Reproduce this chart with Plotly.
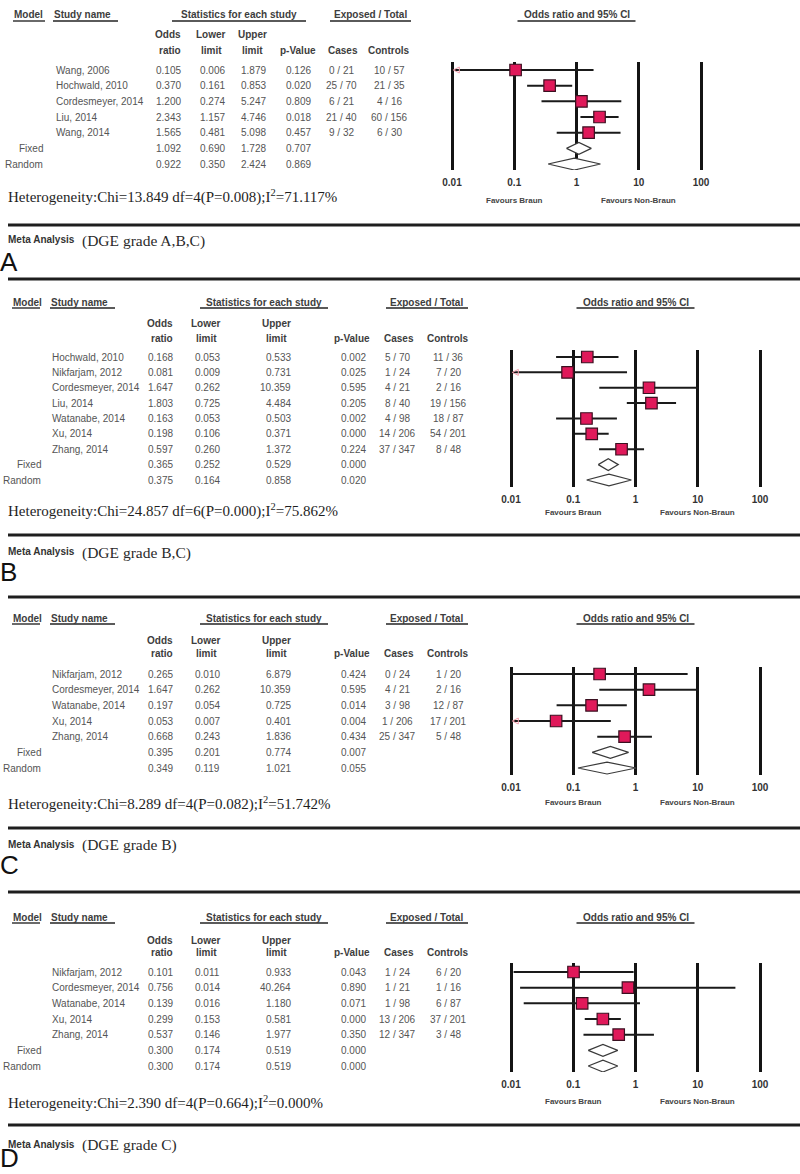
import math
import plotly.graph_objects as go

W, H = 800, 1174

# ------------------------- DATA -------------------------
a_studies = ["Wang, 2006", "Hochwald, 2010", "Cordesmeyer, 2014", "Liu, 2014", "Wang, 2014"]
a_or = [0.105, 0.370, 1.200, 2.343, 1.565]
a_lower = [0.006, 0.161, 0.274, 1.157, 0.481]
a_upper = [1.879, 0.853, 5.247, 4.746, 5.098]
a_p = [0.126, 0.020, 0.809, 0.018, 0.457]
a_cases = ["0 / 21", "25 / 70", "6 / 21", "21 / 40", "9 / 32"]
a_controls = ["10 / 57", "21 / 35", "4 / 16", "60 / 156", "6 / 30"]
a_fixed = [1.092, 0.690, 1.728, 0.707]
a_random = [0.922, 0.350, 2.424, 0.869]
a_het = "Heterogeneity:Chi=13.849 df=4(P=0.008);I<sup>2</sup>=71.117%"
a_title = "(DGE grade A,B,C)"

b_studies = ["Hochwald, 2010", "Nikfarjam, 2012", "Cordesmeyer, 2014", "Liu, 2014",
             "Watanabe, 2014", "Xu, 2014", "Zhang, 2014"]
b_or = [0.168, 0.081, 1.647, 1.803, 0.163, 0.198, 0.597]
b_lower = [0.053, 0.009, 0.262, 0.725, 0.053, 0.106, 0.260]
b_upper = [0.533, 0.731, 10.359, 4.484, 0.503, 0.371, 1.372]
b_p = [0.002, 0.025, 0.595, 0.205, 0.002, 0.000, 0.224]
b_cases = ["5 / 70", "1 / 24", "4 / 21", "8 / 40", "4 / 98", "14 / 206", "37 / 347"]
b_controls = ["11 / 36", "7 / 20", "2 / 16", "19 / 156", "18 / 87", "54 / 201", "8 / 48"]
b_fixed = [0.365, 0.252, 0.529, 0.000]
b_random = [0.375, 0.164, 0.858, 0.020]
b_het = "Heterogeneity:Chi=24.857 df=6(P=0.000);I<sup>2</sup>=75.862%"
b_title = "(DGE grade B,C)"

c_studies = ["Nikfarjam, 2012", "Cordesmeyer, 2014", "Watanabe, 2014", "Xu, 2014", "Zhang, 2014"]
c_or = [0.265, 1.647, 0.197, 0.053, 0.668]
c_lower = [0.010, 0.262, 0.054, 0.007, 0.243]
c_upper = [6.879, 10.359, 0.725, 0.401, 1.836]
c_p = [0.424, 0.595, 0.014, 0.004, 0.434]
c_cases = ["0 / 24", "4 / 21", "3 / 98", "1 / 206", "25 / 347"]
c_controls = ["1 / 20", "2 / 16", "12 / 87", "17 / 201", "5 / 48"]
c_fixed = [0.395, 0.201, 0.774, 0.007]
c_random = [0.349, 0.119, 1.021, 0.055]
c_het = "Heterogeneity:Chi=8.289 df=4(P=0.082);I<sup>2</sup>=51.742%"
c_title = "(DGE grade B)"

d_studies = ["Nikfarjam, 2012", "Cordesmeyer, 2014", "Watanabe, 2014", "Xu, 2014", "Zhang, 2014"]
d_or = [0.101, 0.756, 0.139, 0.299, 0.537]
d_lower = [0.011, 0.014, 0.016, 0.153, 0.146]
d_upper = [0.933, 40.264, 1.180, 0.581, 1.977]
d_p = [0.043, 0.890, 0.071, 0.000, 0.350]
d_cases = ["1 / 24", "1 / 21", "1 / 98", "13 / 206", "12 / 347"]
d_controls = ["6 / 20", "1 / 16", "6 / 87", "37 / 201", "3 / 48"]
d_fixed = [0.300, 0.174, 0.519, 0.000]
d_random = [0.300, 0.174, 0.519, 0.000]
d_het = "Heterogeneity:Chi=2.390 df=4(P=0.664);I<sup>2</sup>=0.000%"
d_title = "(DGE grade C)"

panel_letters = ["A", "B", "C", "D"]
axis_tickvals = [0.01, 0.1, 1, 10, 100]
axis_ticktext = ["0.01", "0.1", "1", "10", "100"]
favours_left = "Favours Braun"
favours_right = "Favours Non-Braun"
favours_left_at = 0.1
favours_right_at = 10

# ------------------------- LAYOUT GEOMETRY -------------------------
SANS = "Liberation Sans, Arial, sans-serif"
SERIF = "Liberation Serif, Times New Roman, serif"
TXT = "#555555"
HDR = "#3d3d3d"
SQUARE = "#e0195a"

colsA = dict(model_r=45, name_l=54, or_r=183, lo_r=227, hi_r=268, p_r=313, cases_c=341, ctrl_c=389,
             h_lo=211, h_hi=253, h_p=298, h_cases=343, h_ctrl=389,
             u_model=(13, 45), u_study=(53, 118), u_stats=(172, 306), u_exp=(330, 411))
colsB = dict(model_r=43, name_l=50, or_r=175, lo_r=222, hi_r=293, p_r=368, cases_c=397, ctrl_c=448,
             h_lo=206, h_hi=276, h_p=352, h_cases=399, h_ctrl=448,
             u_model=(12, 40), u_study=(50, 115), u_stats=(200, 328), u_exp=(386, 468))

geo = [
    dict(cols=colsA, hdr=15, s1=35, s2=50, row0=70, sp=15.67, top=62, bot=170, fav=200,
         het=196, line1=225, meta=241, letter=262, line2=279, x0=452, dec=62.25),
    dict(cols=colsB, hdr=302, s1=323, s2=338, row0=357, sp=15.375, top=350, bot=487, fav=512,
         het=511, line1=535, meta=553, letter=572, line2=597, x0=511, dec=62.25),
    dict(cols=colsB, hdr=618, s1=640, s2=653, row0=674, sp=15.67, top=667, bot=775, fav=802,
         het=803, line1=828, meta=845, letter=865, line2=892, x0=511, dec=62.25),
    dict(cols=colsB, hdr=917, s1=940, s2=952, row0=972, sp=15.67, top=963, bot=1072, fav=1101,
         het=1102, line1=1125, meta=1145, letter=1158, line2=None, x0=511, dec=62.25),
]

data = [
    (a_studies, a_or, a_lower, a_upper, a_p, a_cases, a_controls, a_fixed, a_random, a_het, a_title),
    (b_studies, b_or, b_lower, b_upper, b_p, b_cases, b_controls, b_fixed, b_random, b_het, b_title),
    (c_studies, c_or, c_lower, c_upper, c_p, c_cases, c_controls, c_fixed, c_random, c_het, c_title),
    (d_studies, d_or, d_lower, d_upper, d_p, d_cases, d_controls, d_fixed, d_random, d_het, d_title),
]


def px(x):
    return x / W


def py(y):
    return 1 - y / H


fig = go.Figure()
annotations = []
shapes = []


def ann(text, x, y, xanchor="left", yref="paper", size=10, color=TXT, family=SANS, xref="paper"):
    annotations.append(dict(text=text, x=x, y=y, xref=xref, yref=yref, xanchor=xanchor,
                            yanchor="middle", showarrow=False,
                            font=dict(size=size, color=color, family=family)))


def hline(x0, x1, y, width, color):
    shapes.append(dict(type="line", xref="paper", yref="paper", x0=px(x0), x1=px(x1),
                       y0=py(y), y1=py(y), line=dict(color=color, width=width)))


f3 = lambda v: f"{v:.3f}"

for k, (g, d) in enumerate(zip(geo, data)):
    studies, odds, lower, upper, pval, cases, controls, fixed, random, het, title = d
    c = g["cols"]
    n = len(studies)
    idx = "" if k == 0 else str(k + 1)
    xa, ya = "x" + idx, "y" + idx

    # axes
    pad = 12
    dom_x = [px(g["x0"] - pad), px(g["x0"] + 4 * g["dec"] + pad)]
    rng_x = [-2 - pad / g["dec"], 2 + pad / g["dec"]]
    dom_y = [py(g["bot"]), py(g["top"])]
    rng_y = [-(g["bot"] - g["row0"]) / g["sp"], -(g["top"] - g["row0"]) / g["sp"]]
    fig.layout["xaxis" + idx] = dict(
        type="log", domain=dom_x, range=rng_x, anchor=ya,
        tickvals=axis_tickvals, ticktext=["<b>%s</b>" % t for t in axis_ticktext],
        showgrid=True, gridcolor="#141414", gridwidth=2.6, zeroline=False, showline=False,
        ticks="", ticklabelstandoff=5, tickfont=dict(family=SANS, size=10, color="#333"),
        fixedrange=True)
    fig.layout["yaxis" + idx] = dict(domain=dom_y, range=rng_y, anchor=xa, visible=False,
                                     fixedrange=True)

    rows = [-i for i in range(n)]
    # confidence interval lines (clipped at the axis minimum 0.01)
    lx, lyv = [], []
    for i in range(n):
        lx += [max(lower[i], 0.01), min(upper[i], 100), None]
        lyv += [rows[i], rows[i], None]
    fig.add_trace(go.Scatter(x=lx, y=lyv, mode="lines", xaxis=xa, yaxis=ya,
                             line=dict(color="#1a1a1a", width=2), hoverinfo="skip",
                             showlegend=False))
    # clipped arrows
    clip_y = [rows[i] for i in range(n) if lower[i] < 0.01]
    if clip_y:
        fig.add_trace(go.Scatter(x=[0.0105] * len(clip_y), y=clip_y, mode="markers",
                                 xaxis=xa, yaxis=ya, showlegend=False, hoverinfo="skip",
                                 marker=dict(symbol="arrow-left-open", size=6,
                                             color="#f4a0ae", line=dict(width=1, color="#f4a0ae"))))
    # squares
    fig.add_trace(go.Scatter(x=odds, y=rows, mode="markers", xaxis=xa, yaxis=ya,
                             marker=dict(symbol="square", size=11.5, color=SQUARE,
                                         line=dict(color="#3a1020", width=1.2)),
                             showlegend=False, hoverinfo="skip"))
    # diamonds
    h = 0.38
    for j, summ in enumerate([fixed, random]):
        r = -(n + j)
        fig.add_trace(go.Scatter(x=[summ[1], summ[0], summ[2], summ[0], summ[1]],
                                 y=[r, r + h, r, r - h, r], mode="lines", fill="toself",
                                 fillcolor="white", line=dict(color="#3a3a3a", width=1.2),
                                 xaxis=xa, yaxis=ya, showlegend=False, hoverinfo="skip"))

    # headers
    hy = py(g["hdr"])
    ann("<b>Model</b>", px(c["u_model"][0] - 1), hy, "left", color=HDR)
    ann("<b>Study name</b>", px(c["u_study"][0] - 1), hy, "left", color=HDR)
    ann("<b>Statistics for each study</b>", px(sum(c["u_stats"]) / 2), hy, "center", color=HDR)
    ann("<b>Exposed / Total</b>", px(sum(c["u_exp"]) / 2), hy, "center", color=HDR)
    ax_mid = g["x0"] + 2 * g["dec"]
    ann("<b>Odds ratio and 95% CI</b>", px(ax_mid), hy, "center", color=HDR)
    uy = g["hdr"] + 6
    for key in ["u_model", "u_study", "u_stats", "u_exp"]:
        hline(c[key][0], c[key][1], uy, 1.8, "#5a5a5a")
    hline(ax_mid - 59, ax_mid + 59, uy, 1.8, "#5a5a5a")

    ann("<b>Odds</b>", px(c["or_r"]), py(g["s1"]), "right", color=HDR)
    ann("<b>ratio</b>", px(c["or_r"]), py(g["s2"]), "right", color=HDR)
    ann("<b>Lower</b>", px(c["h_lo"]), py(g["s1"]), "center", color=HDR)
    ann("<b>limit</b>", px(c["h_lo"]), py(g["s2"]), "center", color=HDR)
    ann("<b>Upper</b>", px(c["h_hi"]), py(g["s1"]), "center", color=HDR)
    ann("<b>limit</b>", px(c["h_hi"]), py(g["s2"]), "center", color=HDR)
    ann("<b>p-Value</b>", px(c["h_p"]), py(g["s2"]), "center", color=HDR)
    ann("<b>Cases</b>", px(c["h_cases"]), py(g["s2"]), "center", color=HDR)
    ann("<b>Controls</b>", px(c["h_ctrl"]), py(g["s2"]), "center", color=HDR)

    # study rows
    for i in range(n):
        y = rows[i]
        ann(studies[i], px(c["name_l"]), y, "left", yref=ya)
        ann(f3(odds[i]), px(c["or_r"]), y, "right", yref=ya)
        ann(f3(lower[i]), px(c["lo_r"]), y, "right", yref=ya)
        ann(f3(upper[i]), px(c["hi_r"]), y, "right", yref=ya)
        ann(f3(pval[i]), px(c["p_r"]), y, "right", yref=ya)
        ann(cases[i], px(c["cases_c"]), y, "center", yref=ya)
        ann(controls[i], px(c["ctrl_c"]), y, "center", yref=ya)
    for j, (lab, summ) in enumerate([("Fixed", fixed), ("Random", random)]):
        y = -(n + j)
        ann(lab, px(c["model_r"]), y, "right", yref=ya)
        ann(f3(summ[0]), px(c["or_r"]), y, "right", yref=ya)
        ann(f3(summ[1]), px(c["lo_r"]), y, "right", yref=ya)
        ann(f3(summ[2]), px(c["hi_r"]), y, "right", yref=ya)
        ann(f3(summ[3]), px(c["p_r"]), y, "right", yref=ya)

    # favours labels (annotation x on a log axis is given as log10)
    ann("<b>" + favours_left + "</b>", math.log10(favours_left_at), py(g["fav"]), "center",
        xref=xa, size=8, color="#444")
    ann("<b>" + favours_right + "</b>", math.log10(favours_right_at), py(g["fav"]), "center",
        xref=xa, size=8, color="#444")

    # heterogeneity, separators, titles
    ann(het, px(6), py(g["het"]), "left", size=15, color="#1e1e1e", family=SERIF)
    hline(8, 800, g["line1"], 3, "#1e1e1e")
    ann("<b>Meta Analysis</b>", px(6), py(g["meta"] - 1), "left", size=10, color="#333")
    ann(title, px(80), py(g["meta"]), "left", size=15.5, color="#2a2a2a", family=SERIF)
    ann(panel_letters[k], px(-2), py(g["letter"]), "left", size=26, color="#111", family=SANS)
    if g["line2"] is not None:
        hline(8, 800, g["line2"], 3, "#1e1e1e")

fig.update_layout(width=W, height=H, autosize=False, margin=dict(l=0, r=0, t=0, b=0),
                  paper_bgcolor="white", plot_bgcolor="white", showlegend=False,
                  annotations=annotations, shapes=shapes)

fig.write_html("out.html", config={"displayModeBar": False},
               post_script="document.body.style.margin='0';document.body.style.padding='0';")
